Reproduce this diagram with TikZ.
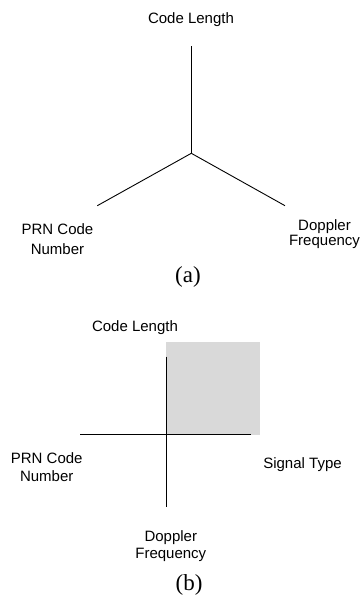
\documentclass[tikz,border=0pt]{standalone}
\usepackage{fontspec}
\setmainfont{Liberation Serif}
\setsansfont{Liberation Sans}

\tikzset{
  axislabel/.style={font=\sffamily\fontsize{15}{#1}\selectfont, align=center, inner sep=0pt, anchor=base},
  caplabel/.style={font=\fontsize{23}{26}\selectfont, inner sep=0pt, anchor=base},
  axis/.style={line width=0.9pt}
}

\begin{document}
\begin{tikzpicture}[x=1pt,y=-1pt]

\useasboundingbox (0,0) rectangle (361,596);

% (a) three axes
\coordinate (OA) at (191.3,153.3);
\coordinate (TA) at (191.3,46);
\coordinate (LA) at (97.3,205.7);
\coordinate (RA) at (285,205.7);

\foreach \i in {TA,LA,RA}
{
  \draw[axis] (OA) -- (\i);
}

\node[axislabel=18] (lenA) at (191,24) {Code Length};
\node[axislabel=20.5] (prnA) at (57.5,254.5) {PRN Code\\Number};
\node[axislabel=14.5] (dopA) at (324.5,245) {Doppler\\Frequency};
\node[caplabel] (capA) at (188,282) {(a)};

% (b) four axes
\fill[gray!30] (166,342) rectangle (260,435);

\coordinate (OB) at (166,434);
\coordinate (TB) at (166,356.5);
\coordinate (BB) at (166,507.3);
\coordinate (LB) at (80,434);
\coordinate (RB) at (250.7,434);

\draw[axis] (TB) -- (BB);
\draw[axis] (LB) -- (RB);

\node[axislabel=18] (lenB) at (135,331.7) {Code Length};
\node[axislabel=18.4] (prnB) at (46.7,481.7) {PRN Code\\Number};
\node[axislabel=18] (sigB) at (302.5,468.3) {Signal Type};
\node[axislabel=16.7] (dopB) at (170.8,558.3) {Doppler\\Frequency};
\node[caplabel] (capB) at (189,590) {(b)};

\end{tikzpicture}
\end{document}
